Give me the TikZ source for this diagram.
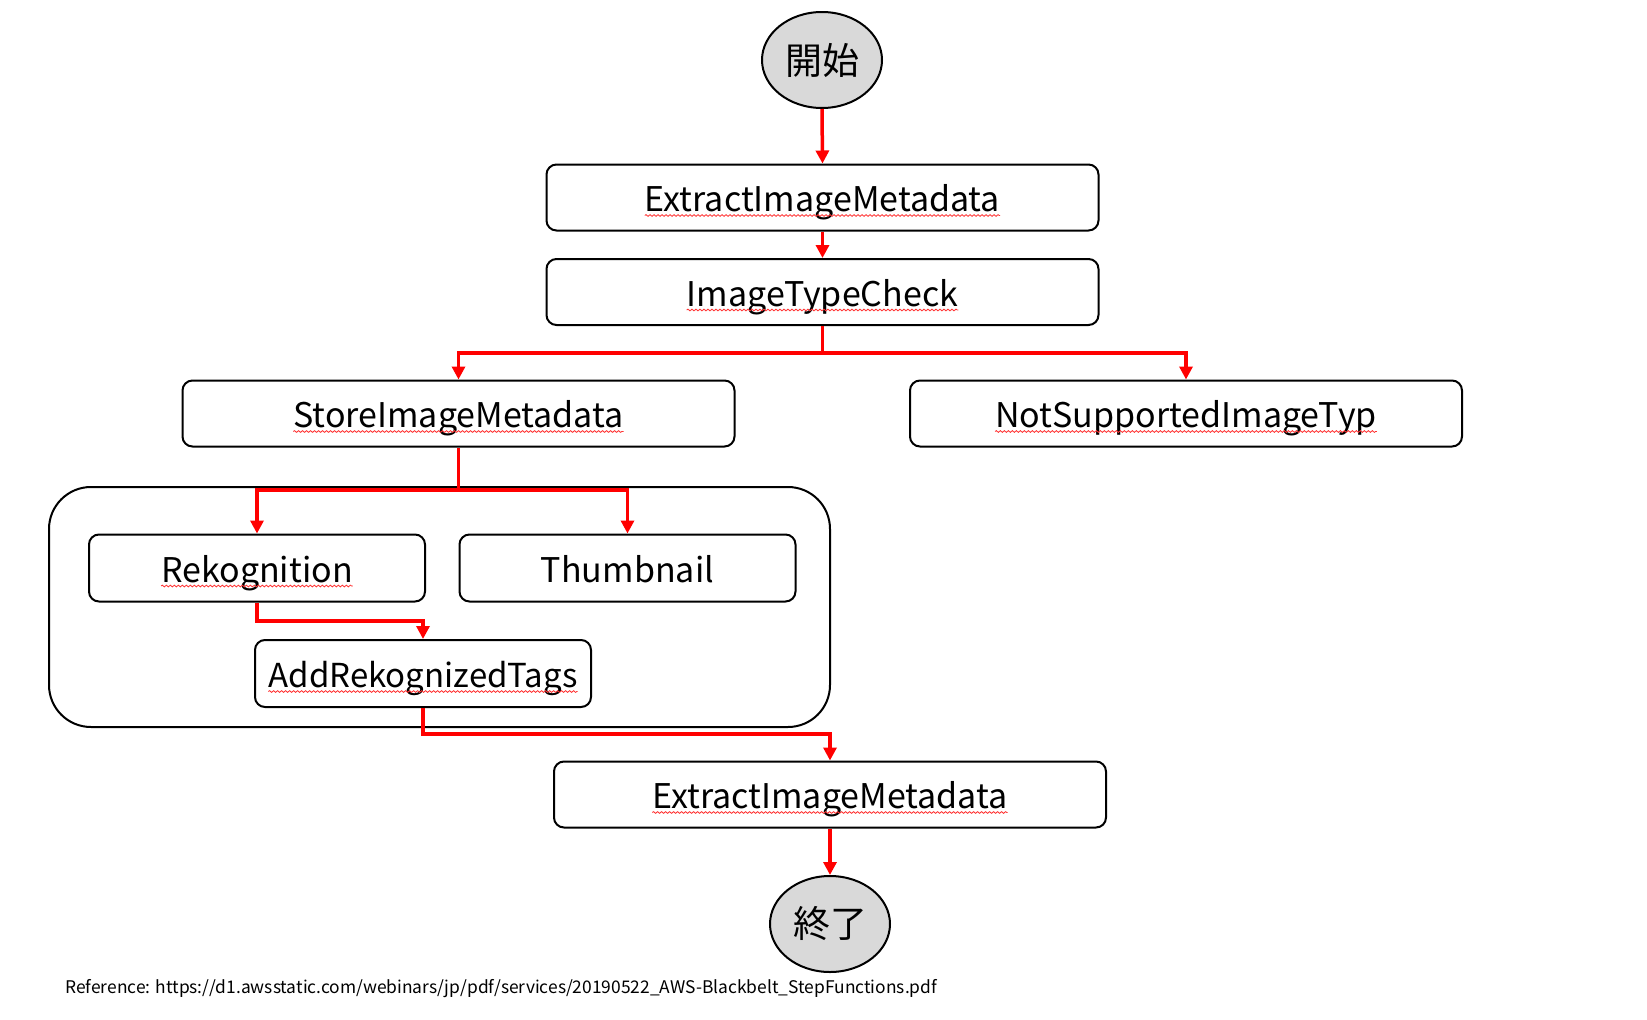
\documentclass[tikz,border=0pt]{standalone}
\usepackage{fontspec}
\setmainfont{Noto Sans CJK JP}
\usetikzlibrary{shapes.geometric,arrows.meta,decorations.pathmorphing}
\definecolor{termfill}{HTML}{D9D9D9}
\tikzset{
  box/.style={draw=black, line width=2pt, rounded corners=10pt, minimum width=552pt, minimum height=66pt, inner sep=0pt},
  smallbox/.style={draw=black, line width=2pt, rounded corners=10pt, minimum width=336pt, minimum height=67pt, inner sep=0pt},
  term/.style={ellipse, draw=black, line width=2pt, fill=termfill, minimum width=120pt, minimum height=96pt, inner sep=0pt, font=\fontsize{37}{37}\selectfont},
  lbl/.style={inner sep=0pt, anchor=base, yshift=-14pt, font=\fontsize{34}{34}\selectfont},
  arr/.style={draw=red, line width=3.5pt, -{Triangle[width=13pt,length=13pt]}},
  redline/.style={draw=red, line width=3.5pt},
  squiggle/.style={draw=red!80, line width=0.8pt, decorate, decoration={snake, amplitude=0.9pt, segment length=4pt}},
  container/.style={draw=black, line width=2pt, rounded corners=42pt}
}
\begin{document}
\begin{tikzpicture}[x=1pt, y=-1pt]
\useasboundingbox (0,0) rectangle (1647,1020);

% container
\draw[container] (49,487) rectangle (830,727);

% nodes
\node[term] (start) at (822,60) {開始};
\node[box] (e1) at (822.5,197.5) {};
\node[lbl] (e1t) at (e1) {ExtractImageMetadata};
\node[box] (e2) at (822.5,292) {};
\node[lbl] (e2t) at (e2) {ImageTypeCheck};
\node[box] (store) at (458.5,413.5) {};
\node[lbl] (storet) at (store) {StoreImageMetadata};
\node[box] (nots) at (1186,413.5) {};
\node[lbl] (notst) at (nots) {NotSupportedImageTyp};
\node[smallbox] (rek) at (257,568) {};
\node[lbl] (rekt) at (rek) {Rekognition};
\node[smallbox] (thumb) at (627.5,568) {};
\node[lbl] (thumbt) at (thumb) {Thumbnail};
\node[smallbox] (add) at (423,673.5) {};
\node[lbl, font=\fontsize{33}{33}\selectfont] (addt) at (add) {AddRekognizedTags};
\node[box] (e3) at (830,794.5) {};
\node[lbl] (e3t) at (e3) {ExtractImageMetadata};
\node[term] (end) at (830,924) {終了};

% spell-check underlines
\foreach \t in {e1t,e2t,storet,notst,rekt,addt,e3t}{
  \draw[squiggle] ([yshift=-4pt]\t.base west) -- ([yshift=-4pt]\t.base east);
}

% branch coordinates
\coordinate (b1) at (822.5,353);
\coordinate (b2) at (458.5,490);
\coordinate (b3) at (257,621);
\coordinate (b4) at (423,734);

% connectors
\draw[arr] (start.south) -- (e1.north);
\draw[arr] (e1.south) -- (e2.north);
\draw[redline] (e2.south) -- (b1);
\draw[arr] (b1) -| (store.north);
\draw[arr] (b1) -| (nots.north);
\draw[redline] (store.south) -- (b2);
\draw[arr] (b2) -| (rek.north);
\draw[arr] (b2) -| (thumb.north);
\draw[arr] (rek.south) -- (b3) -| (add.north);
\draw[arr] (add.south) -- (b4) -| (e3.north);
\draw[arr] (e3.south) -- (end.north);

% reference
\node[anchor=base west, inner sep=0pt, font=\fontsize{17.4}{17.4}\selectfont] (ref) at (65,993) {Reference: https://d1.awsstatic.com/webinars/jp/pdf/services/20190522\_AWS-Blackbelt\_StepFunctions.pdf};
\end{tikzpicture}
\end{document}
